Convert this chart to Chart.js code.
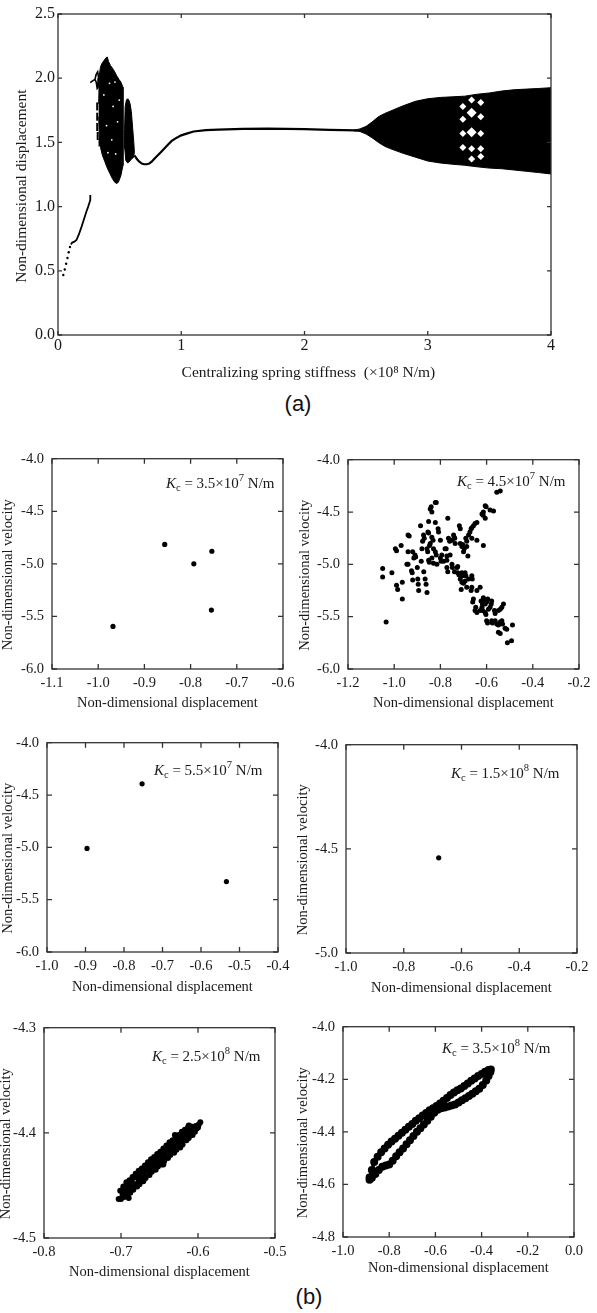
<!DOCTYPE html>
<html>
<head>
<meta charset="utf-8">
<script src="https://cdn.jsdelivr.net/npm/chart.js@4.4.0/dist/chart.umd.min.js"></script>
<style>
body { margin: 0; background: #fff; width: 597px; height: 1313px; position: relative; overflow: hidden; }
.tag { position: absolute; font-family: "Liberation Sans", Arial, sans-serif; font-size: 22px; color: #111; transform: translate(-50%, -50%); }
</style>
</head>
<body>
<div class="tag" style="left:298px;top:404px">(a)</div>
<div class="tag" style="left:309px;top:1297px">(b)</div>
<script>
// ---- (a) bifurcation diagram ----
const topTicksX = [0, 1, 2, 3, 4];
const topTicksY = [0, 0.5, 1, 1.5, 2, 2.5];

const branchDots = [[0.043,0.467],[0.055,0.51],[0.066,0.555],[0.077,0.60],[0.087,0.645],[0.097,0.685]];
const branchLow = [[0.105,0.705],[0.115,0.72],[0.13,0.725],[0.15,0.74],[0.17,0.785],[0.19,0.84],[0.21,0.9],
    [0.23,0.96],[0.245,1.0],[0.255,1.03],[0.262,1.05],[0.262,1.09]];
const branchHigh = [[0.262,1.965],[0.275,1.975],[0.29,1.985],[0.30,1.99],[0.31,2.03],[0.322,2.05],[0.33,2.0],
    [0.325,1.93],[0.318,1.92],[0.31,1.97],[0.30,1.99]];
const chaosDashes = [[0.318,1.78],[0.318,1.70],[0.318,1.62],[0.322,1.55],[0.337,1.50]];

const blobUpper = [[0.33,1.80],[0.335,2.02],[0.345,2.09],[0.36,2.12],[0.375,2.14],[0.39,2.16],[0.40,2.165],
    [0.41,2.13],[0.425,2.10],[0.44,2.08],[0.46,2.05],[0.476,2.02],[0.495,1.99],[0.51,1.97],[0.527,1.93]];
const blobLower = [[0.33,1.70],[0.335,1.55],[0.345,1.46],[0.36,1.40],[0.38,1.35],[0.40,1.30],[0.42,1.26],
    [0.44,1.22],[0.46,1.19],[0.476,1.18],[0.49,1.19],[0.51,1.24],[0.527,1.32]];
const blobSpecks = [[0.372,1.87],[0.394,1.63],[0.418,1.96],[0.436,1.52],[0.447,1.78],[0.468,1.41],
    [0.483,1.66],[0.497,1.83],[0.405,1.42],[0.462,1.97]];
const lobeUpper = [[0.54,1.60],[0.545,1.78],[0.555,1.83],[0.565,1.84],[0.575,1.83],[0.585,1.80],[0.595,1.74],
    [0.605,1.62],[0.615,1.50],[0.62,1.42]];
const lobeLower = [[0.54,1.60],[0.542,1.45],[0.55,1.36],[0.565,1.34],[0.58,1.35],[0.595,1.37],[0.61,1.38],[0.62,1.42]];

const period1 = [[0.62,1.40],[0.64,1.37],[0.66,1.35],[0.68,1.335],[0.70,1.33],[0.72,1.33],[0.74,1.335],
    [0.76,1.35],[0.78,1.37],[0.80,1.39],[0.84,1.43],[0.88,1.47],[0.92,1.51],[0.96,1.535],[1.0,1.555],
    [1.05,1.57],[1.1,1.585],[1.2,1.595],[1.3,1.60],[1.5,1.605],[1.7,1.607],[2.0,1.603],[2.2,1.598],[2.42,1.593]];

const bandUpper = [[2.40,1.595],[2.45,1.605],[2.50,1.625],[2.55,1.66],[2.60,1.70],[2.65,1.725],[2.70,1.745],
    [2.80,1.785],[2.90,1.82],[3.00,1.84],[3.10,1.85],[3.20,1.855],[3.30,1.86],[3.40,1.875],[3.50,1.885],
    [3.60,1.90],[3.70,1.91],[3.80,1.915],[3.90,1.92],[4.0,1.926]];
const bandLower = [[2.40,1.59],[2.45,1.585],[2.50,1.565],[2.55,1.535],[2.60,1.50],[2.65,1.47],[2.70,1.45],
    [2.80,1.415],[2.90,1.385],[3.00,1.355],[3.10,1.34],[3.20,1.33],[3.30,1.322],[3.40,1.31],[3.50,1.30],
    [3.60,1.295],[3.70,1.285],[3.80,1.275],[3.90,1.265],[4.0,1.254]];
const holesBig = [[3.356,1.73],[3.356,1.58]];
const holesSmall = [[3.285,1.78],[3.285,1.68],[3.285,1.57],[3.285,1.46],[3.356,1.83],[3.356,1.45],
    [3.356,1.37],[3.43,1.81],[3.43,1.70],[3.43,1.57],[3.43,1.45],[3.43,1.39]];

// ---- (b) phase portraits ----
const ticksX1 = [-1.1, -1.0, -0.9, -0.8, -0.7, -0.6];
const ticksY1 = [-6, -5.5, -5, -4.5, -4];
const k35e7 = [[-0.856,-4.815],[-0.793,-5.0],[-0.754,-4.88],[-0.755,-5.44],[-0.968,-5.595]];

const ticksX2 = [-1.2, -1.0, -0.8, -0.6, -0.4, -0.2];
const ticksY2 = [-6, -5.5, -5, -4.5, -4];
const k45e7 = [[-1.05,-5.04],[-1.05,-5.12],[-1.035,-5.55],[-1.01,-5.08],[-0.995,-4.85],[-0.99,-4.87],
    [-0.99,-5.2],[-0.985,-5.24],[-0.97,-4.82],[-0.965,-5.17],[-0.965,-5.33],[-0.945,-5.0],[-0.94,-5.0],
    [-0.94,-4.88],[-0.94,-4.72],[-0.935,-4.73],[-0.925,-5.06],[-0.922,-5.08],[-0.92,-5.15],[-0.92,-4.88],
    [-0.915,-4.94],[-0.91,-4.91],[-0.907,-4.93],[-0.9,-5.03],[-0.898,-5.14],[-0.896,-5.19],[-0.894,-5.25],
    [-0.886,-4.63],[-0.883,-4.97],[-0.88,-4.85],[-0.877,-4.78],[-0.873,-4.72],[-0.87,-4.75],[-0.872,-5.07],
    [-0.866,-5.14],[-0.862,-5.19],[-0.858,-5.27],[-0.858,-4.85],[-0.855,-4.88],[-0.854,-4.69],[-0.851,-4.70],
    [-0.851,-4.59],[-0.851,-4.96],[-0.848,-4.98],[-0.844,-4.47],[-0.84,-4.45],[-0.837,-4.5],[-0.844,-4.8],
    [-0.847,-4.82],[-0.837,-4.74],[-0.832,-4.77],[-0.83,-4.85],[-0.837,-4.94],[-0.83,-4.99],[-0.822,-4.41],
    [-0.818,-4.41],[-0.822,-4.6],[-0.822,-4.88],[-0.818,-4.91],[-0.815,-5.0],[-0.808,-4.69],[-0.81,-4.66],
    [-0.8,-4.77],[-0.8,-4.94],[-0.797,-4.97],[-0.794,-4.91],[-0.786,-4.97],[-0.78,-4.85],[-0.775,-4.85],
    [-0.772,-4.92],[-0.772,-4.96],[-0.772,-5.03],[-0.768,-5.07],[-0.768,-4.56],[-0.765,-4.75],[-0.76,-4.78],
    [-0.758,-4.91],[-0.75,-4.77],[-0.75,-5.0],[-0.748,-5.03],[-0.743,-4.72],[-0.74,-4.74],[-0.739,-5.07],
    [-0.736,-4.8],[-0.738,-4.75],[-0.725,-5.02],[-0.728,-5.03],[-0.725,-5.08],[-0.72,-5.1],[-0.714,-4.66],
    [-0.718,-4.63],[-0.714,-4.8],[-0.707,-4.83],[-0.704,-4.81],[-0.707,-5.08],[-0.705,-5.11],[-0.714,-5.14],
    [-0.707,-5.17],[-0.71,-5.24],[-0.7,-4.88],[-0.697,-4.85],[-0.693,-5.08],[-0.69,-5.11],[-0.7,-5.18],
    [-0.693,-5.16],[-0.69,-4.75],[-0.686,-4.78],[-0.686,-4.83],[-0.686,-5.22],[-0.681,-4.92],[-0.678,-5.14],
    [-0.672,-4.69],[-0.678,-4.72],[-0.664,-4.65],[-0.667,-4.66],[-0.664,-4.75],[-0.657,-4.63],[-0.65,-4.61],
    [-0.642,-4.6],[-0.642,-4.77],[-0.62,-4.52],[-0.615,-4.53],[-0.614,-4.5],[-0.606,-4.44],[-0.602,-4.45],
    [-0.606,-4.56],[-0.614,-4.82],[-0.585,-4.48],[-0.57,-4.49],[-0.556,-4.31],[-0.541,-4.3],[-0.664,-5.11],
    [-0.662,-5.14],[-0.664,-5.22],[-0.667,-5.25],[-0.657,-5.33],[-0.66,-5.36],[-0.65,-5.44],[-0.647,-5.41],
    [-0.642,-5.25],[-0.642,-5.46],[-0.628,-5.22],[-0.628,-5.44],[-0.624,-5.35],[-0.618,-5.38],[-0.614,-5.32],
    [-0.61,-5.34],[-0.62,-5.41],[-0.617,-5.44],[-0.606,-5.38],[-0.6,-5.36],[-0.606,-5.46],[-0.603,-5.48],
    [-0.592,-5.43],[-0.585,-5.41],[-0.595,-5.33],[-0.578,-5.35],[-0.58,-5.38],[-0.6,-5.54],[-0.596,-5.56],
    [-0.578,-5.54],[-0.575,-5.56],[-0.563,-5.54],[-0.556,-5.57],[-0.566,-5.44],[-0.563,-5.47],[-0.546,-5.57],
    [-0.541,-5.55],[-0.534,-5.54],[-0.531,-5.57],[-0.549,-5.58],[-0.549,-5.44],[-0.541,-5.43],[-0.534,-5.41],
    [-0.527,-5.38],[-0.549,-5.65],[-0.541,-5.66],[-0.52,-5.61],[-0.513,-5.62],[-0.51,-5.75],[-0.492,-5.73],
    [-0.488,-5.58]];

const ticksX3 = [-1.0, -0.9, -0.8, -0.7, -0.6, -0.5, -0.4];
const ticksY3 = [-6, -5.5, -5, -4.5, -4];
const k55e7 = [[-0.896,-5.01],[-0.753,-4.393],[-0.534,-5.327]];

const ticksX4 = [-1.0, -0.8, -0.6, -0.4, -0.2];
const ticksY4 = [-5, -4.5, -4];
const k15e8 = [[-0.679,-4.543]];

const ticksX5 = [-0.8, -0.7, -0.6, -0.5];
const ticksY5 = [-4.5, -4.4, -4.3];
const k25e8 = [[-0.700,-4.463],[-0.698,-4.459],[-0.701,-4.455],[-0.696,-4.461],[-0.694,-4.456],[-0.697,-4.451],
    [-0.692,-4.459],[-0.689,-4.453],[-0.693,-4.447],[-0.688,-4.457],[-0.686,-4.450],[-0.689,-4.445],
    [-0.684,-4.454],[-0.681,-4.449],[-0.685,-4.442],[-0.679,-4.451],[-0.677,-4.446],[-0.681,-4.439],
    [-0.676,-4.449],[-0.674,-4.442],[-0.677,-4.436],[-0.671,-4.446],[-0.669,-4.441],[-0.673,-4.434],
    [-0.668,-4.443],[-0.666,-4.436],[-0.669,-4.431],[-0.663,-4.440],[-0.661,-4.434],[-0.665,-4.428],
    [-0.660,-4.437],[-0.658,-4.432],[-0.661,-4.425],[-0.655,-4.435],[-0.653,-4.428],[-0.657,-4.423],
    [-0.652,-4.432],[-0.650,-4.426],[-0.653,-4.420],[-0.647,-4.430],[-0.645,-4.423],[-0.649,-4.418],
    [-0.644,-4.427],[-0.642,-4.422],[-0.645,-4.415],[-0.639,-4.424],[-0.637,-4.417],[-0.641,-4.412],
    [-0.636,-4.421],[-0.634,-4.415],[-0.637,-4.409],[-0.631,-4.419],[-0.629,-4.412],[-0.633,-4.407],
    [-0.628,-4.416],[-0.626,-4.411],[-0.629,-4.404],[-0.623,-4.414],[-0.621,-4.407],[-0.625,-4.402],
    [-0.620,-4.411],[-0.618,-4.405],[-0.621,-4.399],[-0.615,-4.407],[-0.613,-4.401],[-0.617,-4.397],
    [-0.612,-4.405],[-0.610,-4.399],[-0.613,-4.395],[-0.607,-4.402],[-0.605,-4.398],[-0.609,-4.394],
    [-0.604,-4.399],[-0.602,-4.396],[-0.600,-4.395],[-0.599,-4.392],[-0.597,-4.390],
    [-0.703,-4.463],[-0.690,-4.462],[-0.645,-4.430],[-0.630,-4.402],[-0.612,-4.393],
    [-0.697,-4.4535],[-0.690,-4.448],[-0.683,-4.4425],[-0.675,-4.439],[-0.667,-4.4335],[-0.659,-4.4285],
    [-0.651,-4.423],[-0.643,-4.4185],[-0.635,-4.412],[-0.627,-4.4075],[-0.619,-4.402],[-0.611,-4.397],
    [-0.603,-4.3935],[-0.693,-4.4505],[-0.686,-4.4455],[-0.679,-4.4425],[-0.671,-4.4375],[-0.663,-4.431],
    [-0.655,-4.4255],[-0.647,-4.4205],[-0.639,-4.4145],[-0.631,-4.410],[-0.623,-4.4045],[-0.615,-4.399],
    [-0.607,-4.3955]];

const ticksX6 = [-1.0, -0.8, -0.6, -0.4, -0.2, 0];
const ticksY6 = [-4.8, -4.6, -4.4, -4.2, -4.0];
const k35e8Upper = [[-0.885,-4.574],[-0.875,-4.545],[-0.865,-4.515],[-0.85,-4.495],[-0.835,-4.478],
    [-0.82,-4.463],[-0.805,-4.449],[-0.79,-4.437],[-0.775,-4.426],[-0.76,-4.415],[-0.745,-4.403],
    [-0.73,-4.392],[-0.715,-4.381],[-0.70,-4.370],[-0.685,-4.358],[-0.67,-4.348],[-0.655,-4.338],
    [-0.64,-4.328],[-0.625,-4.318],[-0.61,-4.310],[-0.595,-4.302],[-0.58,-4.292],[-0.565,-4.282],
    [-0.55,-4.271],[-0.535,-4.260],[-0.52,-4.250],[-0.505,-4.242],[-0.49,-4.235],[-0.475,-4.226],
    [-0.46,-4.216],[-0.445,-4.206],[-0.43,-4.197],[-0.415,-4.188],[-0.40,-4.180],[-0.385,-4.171],
    [-0.37,-4.165],[-0.36,-4.163]];
const k35e8Lower = [[-0.885,-4.582],[-0.875,-4.575],[-0.86,-4.560],[-0.845,-4.545],[-0.83,-4.533],
    [-0.815,-4.528],[-0.80,-4.524],[-0.785,-4.510],[-0.77,-4.493],[-0.755,-4.478],[-0.74,-4.463],
    [-0.725,-4.447],[-0.71,-4.432],[-0.695,-4.416],[-0.68,-4.400],[-0.665,-4.386],[-0.65,-4.372],
    [-0.635,-4.358],[-0.62,-4.343],[-0.605,-4.327],[-0.59,-4.316],[-0.575,-4.310],[-0.56,-4.307],
    [-0.545,-4.304],[-0.53,-4.300],[-0.515,-4.296],[-0.50,-4.288],[-0.485,-4.280],[-0.47,-4.272],
    [-0.455,-4.264],[-0.44,-4.255],[-0.425,-4.246],[-0.41,-4.236],[-0.395,-4.222],[-0.38,-4.205],
    [-0.37,-4.188],[-0.362,-4.172]];

const SERIF = '"Liberation Serif", "Times New Roman", serif';
const INK = '#1a1a1a';

function pts(arr) {
    return arr.map(p => ({ x: p[0], y: p[1] }));
}

// frame box, inward ticks on all four sides, and the K_c note
const framePlugin = {
    id: 'frame',
    afterDraw(chart, args, opts) {
        const ctx = chart.ctx;
        const a = chart.chartArea;
        const sx = chart.scales.x, sy = chart.scales.y;
        const L = opts.tick;
        ctx.save();
        ctx.strokeStyle = '#333';
        ctx.lineWidth = 1.3;
        ctx.strokeRect(a.left, a.top, a.right - a.left, a.bottom - a.top);
        ctx.beginPath();
        sx.ticks.forEach(t => {
            const p = sx.getPixelForValue(t.value);
            ctx.moveTo(p, a.bottom); ctx.lineTo(p, a.bottom - L);
            ctx.moveTo(p, a.top); ctx.lineTo(p, a.top + L);
        });
        sy.ticks.forEach(t => {
            const p = sy.getPixelForValue(t.value);
            ctx.moveTo(a.left, p); ctx.lineTo(a.left + L, p);
            ctx.moveTo(a.right, p); ctx.lineTo(a.right - L, p);
        });
        ctx.stroke();
        if (opts.note) {
            const n = opts.note;
            let x = a.left + n.dx;
            const y = a.top + n.dy;
            ctx.fillStyle = INK;
            ctx.textBaseline = 'alphabetic';
            ctx.textAlign = 'left';
            const put = (txt, font, dy) => {
                ctx.font = font;
                ctx.fillText(txt, x, y + dy);
                x += ctx.measureText(txt).width;
            };
            put('K', 'italic 15px ' + SERIF, 0);
            put('c', '10.5px ' + SERIF, 3);
            put(' = ' + n.m + '×10', '15px ' + SERIF, 0);
            put(n.e, '10.5px ' + SERIF, -6.5);
            put(' N/m', '15px ' + SERIF, 0);
        }
        ctx.restore();
    }
};

function makeChart(cfg) {
    const a = cfg.area;
    const half = cfg.titleSize * 0.6;
    const cl = Math.round(cfg.yTitleX - half);
    const ct = a.t - 14;
    const cw = a.r + 24 - cl;
    const cb = Math.round(cfg.xTitleY + half + 2);
    const cv = document.createElement('canvas');
    cv.width = cw;
    cv.height = cb - ct;
    cv.style.cssText = 'position:absolute;left:' + cl + 'px;top:' + ct + 'px;width:' + cw + 'px;height:' + (cb - ct) + 'px';
    document.body.appendChild(cv);

    const yW = a.l - cl, xH = cb - a.b;
    const titleFont = { family: SERIF, size: cfg.titleSize, lineHeight: 1.2 };
    const tickFont = { family: SERIF, size: cfg.tickSize };

    return new Chart(cv, {
        type: 'scatter',
        data: { datasets: cfg.datasets },
        plugins: [framePlugin],
        options: {
            responsive: false,
            animation: false,
            events: [],
            layout: { padding: { left: 0, top: 14, right: 24, bottom: 0 } },
            plugins: {
                legend: { display: false },
                tooltip: { enabled: false },
                frame: { tick: cfg.tickLen, note: cfg.note }
            },
            scales: {
                x: {
                    type: 'linear', min: cfg.xr[0], max: cfg.xr[1],
                    afterBuildTicks: s => { s.ticks = cfg.xt.map(v => ({ value: v })); },
                    afterFit: s => { s.height = xH; },
                    grid: { display: false, drawTicks: false },
                    border: { display: false },
                    ticks: { padding: cfg.xPad, font: tickFont, color: INK, autoSkip: false, maxRotation: 0,
                        callback: v => v.toFixed(cfg.xDec) },
                    title: { display: true, text: cfg.xTitle, font: titleFont, color: INK,
                        padding: { top: 0, bottom: cb - cfg.xTitleY - half } }
                },
                y: {
                    type: 'linear', min: cfg.yr[0], max: cfg.yr[1],
                    afterBuildTicks: s => { s.ticks = cfg.yt.map(v => ({ value: v })); },
                    afterFit: s => { s.width = yW; },
                    grid: { display: false, drawTicks: false },
                    border: { display: false },
                    ticks: { padding: cfg.yPad, font: tickFont, color: INK, autoSkip: false,
                        callback: v => v.toFixed(1) },
                    title: { display: true, text: cfg.yTitle, font: titleFont, color: INK,
                        padding: { top: cfg.yTitleX - cl - half, bottom: 0 } }
                }
            }
        }
    });
}

const black = '#000';
const lineSet = (arr, w) => ({ data: pts(arr), showLine: true, borderColor: black, borderWidth: w,
    pointRadius: 0, fill: false, tension: 0, order: 1 });
const shapeSet = arr => ({ data: pts(arr), showLine: true, fill: 'shape', backgroundColor: black,
    borderColor: black, borderWidth: 1, pointRadius: 0, tension: 0, order: 2 });

makeChart({
    area: { l: 58, t: 14, r: 551, b: 335 },
    yTitleX: 22, xTitleY: 373, titleSize: 15.5, tickSize: 16, tickLen: 4,
    xPad: 1, yPad: 3, xDec: 0,
    xr: [0, 4], yr: [0, 2.5], xt: topTicksX, yt: topTicksY,
    xTitle: '  Centralizing spring stiffness  (×10⁸ N/m)',
    yTitle: 'Non-dimensional displacement      ',
    datasets: [
        { data: pts(holesBig), pointStyle: 'rectRot', pointRadius: 5, backgroundColor: '#fff', borderWidth: 0, order: 0 },
        { data: pts(holesSmall), pointStyle: 'rectRot', pointRadius: 3.5, backgroundColor: '#fff', borderWidth: 0, order: 0 },
        { data: pts(blobSpecks), pointRadius: 0.9, backgroundColor: '#fff', borderWidth: 0, order: 0 },
        shapeSet(bandUpper.concat(bandLower.slice().reverse())),
        shapeSet(blobUpper.concat(blobLower.slice().reverse())),
        shapeSet(lobeUpper.concat(lobeLower.slice().reverse())),
        lineSet(period1, 2.2),
        lineSet(branchHigh, 1.6),
        lineSet(branchLow, 1.8),
        { data: pts(chaosDashes), pointStyle: 'line', rotation: 90, pointRadius: 4, borderWidth: 2, borderColor: black, order: 1 },
        { data: pts(branchDots), pointRadius: 1.2, backgroundColor: black, borderWidth: 0, order: 1 }
    ]
});

const dotSet = (arr, r) => ({ data: pts(arr), pointRadius: r, backgroundColor: black, borderWidth: 0 });
const common = {
    titleSize: 14.5, tickSize: 14.5, tickLen: 5, xPad: 5, yPad: 8, xDec: 1,
    xTitle: 'Non-dimensional displacement',
    yTitle: 'Non-dimensional velocity      '
};

makeChart(Object.assign({}, common, {
    area: { l: 52, t: 456, r: 283, b: 669 }, yTitleX: 8, xTitleY: 703,
    xr: [-1.1, -0.6], yr: [-6, -4], xt: ticksX1, yt: ticksY1,
    note: { dx: 114, dy: 29, m: '3.5', e: '7' },
    datasets: [dotSet(k35e7, 2.6)]
}));
makeChart(Object.assign({}, common, {
    area: { l: 348, t: 457, r: 579, b: 669 }, yTitleX: 305, xTitleY: 703,
    xr: [-1.2, -0.2], yr: [-6, -4], xt: ticksX2, yt: ticksY2,
    note: { dx: 109, dy: 26, m: '4.5', e: '7' },
    datasets: [dotSet(k45e7, 2.5)]
}));
makeChart(Object.assign({}, common, {
    area: { l: 47, t: 740, r: 278, b: 952 }, yTitleX: 8, xTitleY: 987,
    xr: [-1.0, -0.4], yr: [-6, -4], xt: ticksX3, yt: ticksY3,
    note: { dx: 107, dy: 32, m: '5.5', e: '7' },
    datasets: [dotSet(k55e7, 2.6)]
}));
makeChart(Object.assign({}, common, {
    area: { l: 346, t: 742, r: 577, b: 953 }, yTitleX: 303, xTitleY: 988,
    xr: [-1.0, -0.2], yr: [-5, -4], xt: ticksX4, yt: ticksY4,
    note: { dx: 105, dy: 33, m: '1.5', e: '8' },
    datasets: [dotSet(k15e8, 2.6)]
}));
makeChart(Object.assign({}, common, {
    area: { l: 44, t: 1025, r: 275, b: 1238 }, yTitleX: 6, xTitleY: 1272,
    xr: [-0.8, -0.5], yr: [-4.5, -4.3], xt: ticksX5, yt: ticksY5,
    note: { dx: 108, dy: 33, m: '2.5', e: '8' },
    datasets: [dotSet(k25e8, 3.0)]
}));
makeChart(Object.assign({}, common, {
    area: { l: 343, t: 1024, r: 574, b: 1237 }, yTitleX: 303, xTitleY: 1268,
    xr: [-1.0, 0], yr: [-4.8, -4.0], xt: ticksX6, yt: ticksY6,
    note: { dx: 99, dy: 26, m: '3.5', e: '8' },
    datasets: [
        Object.assign(dotSet(k35e8Upper, 2.2), { showLine: true, borderColor: black, borderWidth: 3.6, tension: 0 }),
        Object.assign(dotSet(k35e8Lower, 2.2), { showLine: true, borderColor: black, borderWidth: 3.6, tension: 0 })
    ]
}));
</script>
</body>
</html>
